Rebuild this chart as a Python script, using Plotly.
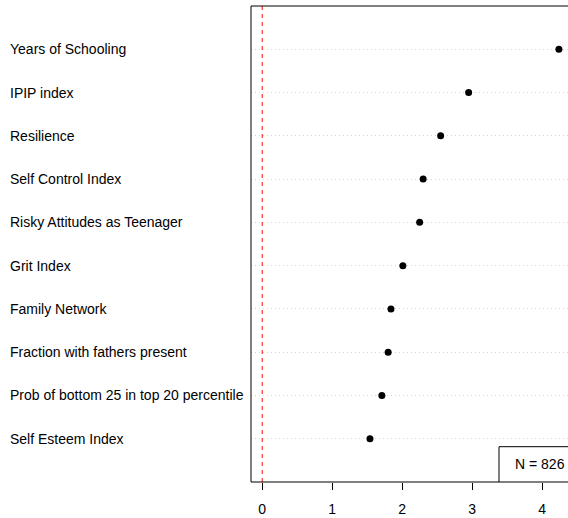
import plotly.graph_objects as go

categories = [
    "Years of Schooling",
    "IPIP index",
    "Resilience",
    "Self Control Index",
    "Risky Attitudes as Teenager",
    "Grit Index",
    "Family Network",
    "Fraction with fathers present",
    "Prob of bottom 25 in top 20 percentile",
    "Self Esteem Index",
]
values = [4.24, 2.95, 2.55, 2.30, 2.25, 2.01, 1.84, 1.80, 1.71, 1.54]
x_ticks = [0, 1, 2, 3, 4]
n_label = "N = 826"

n = len(categories)
ypos = [n - i for i in range(n)]

W, H = 568, 518
ML, MR, MT, MB = 251, 0, 6, 36
plot_w = W - ML - MR

fig = go.Figure()
fig.add_trace(go.Scatter(
    x=values, y=ypos, mode="markers",
    marker=dict(color="black", size=7),
    hoverinfo="skip", showlegend=False, cliponaxis=False,
))

font = dict(family="Liberation Sans, Arial, sans-serif", size=14, color="black")

annotations = []
for cat, y in zip(categories, ypos):
    annotations.append(dict(
        text=cat, x=(8 - ML) / plot_w, xref="paper", y=y, yref="y",
        xanchor="left", yanchor="middle", showarrow=False, font=font,
    ))
annotations.append(dict(
    text=n_label, x=(513 - ML) / plot_w, xref="paper", y=0.41, yref="y",
    xanchor="left", yanchor="middle", showarrow=False, font=font,
))

shapes = [
    dict(type="line", x0=0, x1=0, xref="x", y0=0, y1=1, yref="paper",
         line=dict(color="red", width=1, dash="4px,4px")),
    dict(type="line", x0=0, x1=0, xref="paper", y0=0, y1=1, yref="paper",
         line=dict(color="black", width=1)),
    dict(type="line", x0=0, x1=1.01, xref="paper", y0=1, y1=1, yref="paper",
         line=dict(color="black", width=1)),
    dict(type="line", x0=0, x1=1.01, xref="paper", y0=0, y1=0, yref="paper",
         line=dict(color="black", width=1)),
    dict(type="rect", x0=(499 - ML) / plot_w, x1=1.02, xref="paper",
         y0=0, y1=0.816, yref="y",
         line=dict(color="black", width=1), fillcolor="white", layer="above"),
]

fig.update_layout(
    width=W, height=H,
    margin=dict(l=ML, r=MR, t=MT, b=MB, pad=0),
    paper_bgcolor="white", plot_bgcolor="white",
    font=font,
    xaxis=dict(
        range=[-0.16, 4.37], tickvals=x_ticks, ticktext=[str(t) for t in x_ticks],
        ticks="outside", ticklen=7, tickcolor="black", tickwidth=1,
        ticklabelstandoff=7,
        showgrid=False, zeroline=False, showline=False,
        tickfont=font, fixedrange=True,
    ),
    yaxis=dict(
        range=[0, n + 1], tickvals=ypos, showticklabels=False,
        showgrid=True, gridcolor="#d3d3d3", griddash="1px,3px", gridwidth=1,
        zeroline=False, showline=False, ticks="", fixedrange=True,
    ),
    annotations=annotations,
    shapes=shapes,
)

fig.write_html(
    "out.html",
    config={"displayModeBar": False},
    post_script="document.body.style.margin='0';document.body.style.overflow='hidden';",
)
